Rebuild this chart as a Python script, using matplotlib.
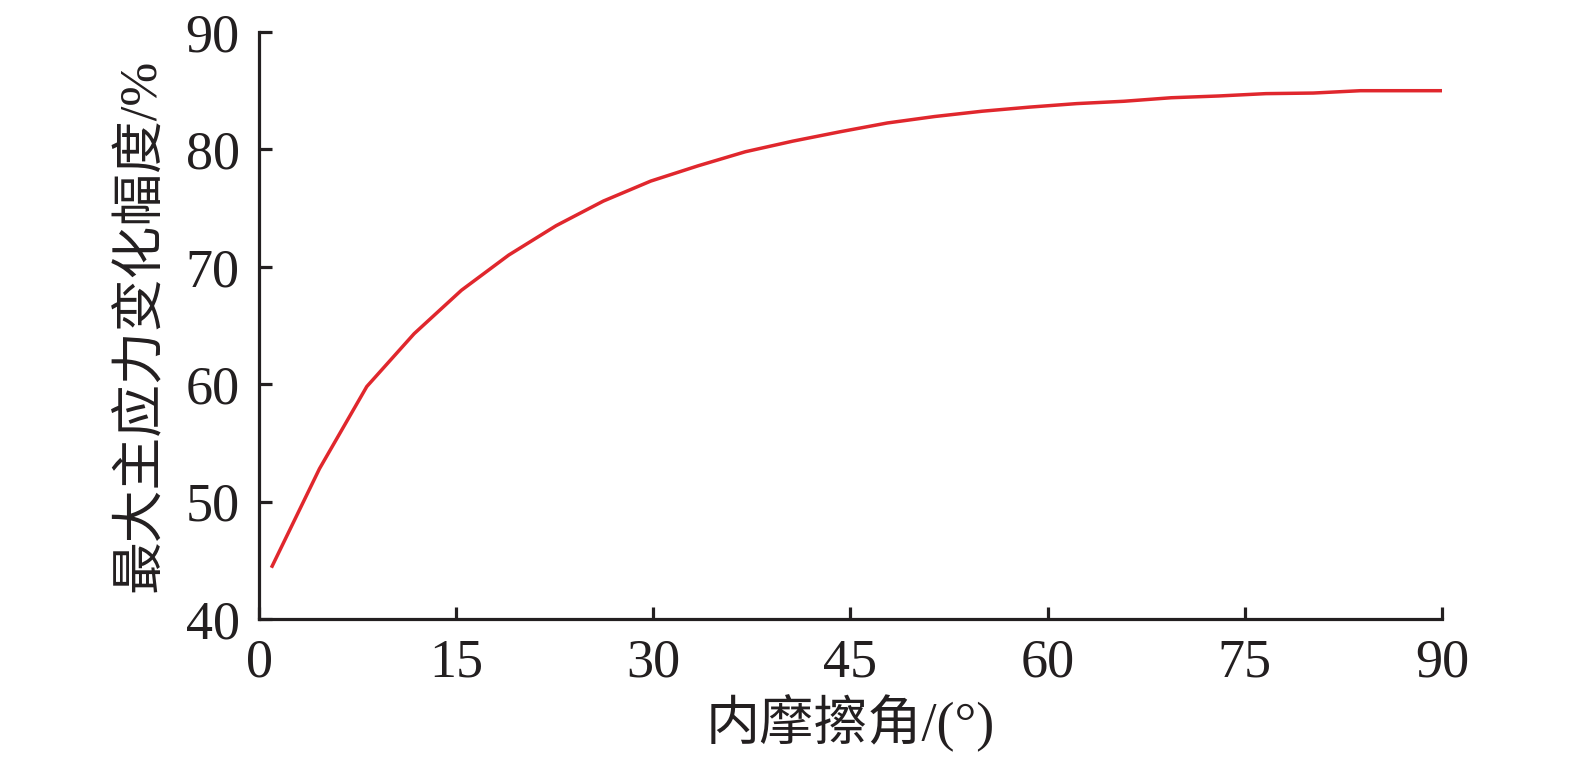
import matplotlib
matplotlib.use("Agg")
import matplotlib.pyplot as plt


# -------------------------------
# Data
# -------------------------------

angle = [1, 4.6, 8.2, 11.8, 15.4, 19, 22.6, 26.2, 29.8, 33.4, 37, 40.6, 44.2,
         47.8, 51.4, 55, 58.6, 62.2, 65.8, 69.4, 73, 76.6, 80.2, 83.8, 87.4, 90]
change = [44.5, 52.8, 59.8, 64.3, 68.0, 71.0, 73.5, 75.6, 77.3, 78.6, 79.8,
          80.7, 81.5, 82.25, 82.8, 83.25, 83.6, 83.9, 84.1, 84.4, 84.55,
          84.75, 84.8, 85.0, 85.0, 85.0]

x_ticks = [0, 15, 30, 45, 60, 75, 90]
y_ticks = [40, 50, 60, 70, 80, 90]

x_label = "内摩擦角/(°)"
y_label = "最大主应力变化幅度/%"

fonts = ["Liberation Serif", "Noto Sans CJK SC", "DejaVu Sans"]
plt.rcParams["font.family"] = fonts


# ===============================
# Plot
# ===============================

fig = plt.figure(figsize=(15.75, 7.62), dpi=100)
# axes box in pixels: x 259..1442, y 32..619
ax = fig.add_axes([259 / 1575, 1 - 619 / 762, (1442 - 259) / 1575, (619 - 32) / 762])

ax.plot(angle, change, color="#e0272d", lw=2.5)

ax.set_xlim(0, 90)
ax.set_ylim(40, 90)
ax.set_xticks(x_ticks)
ax.set_yticks(y_ticks)

for s in ["top", "right"]:
    ax.spines[s].set_visible(False)
for s in ["left", "bottom"]:
    ax.spines[s].set_linewidth(2.3)
    ax.spines[s].set_color("#231f20")

ax.tick_params(direction="in", length=9, width=2.3, color="#231f20",
               labelsize=39, labelcolor="#231f20")
ax.tick_params(axis="x", pad=14)
ax.tick_params(axis="y", pad=14)

ax.set_xlabel(x_label, fontsize=39, color="#231f20", labelpad=4)
ax.set_ylabel(y_label, fontsize=38, color="#231f20", labelpad=14)

fig.savefig("out.png", dpi=100)
